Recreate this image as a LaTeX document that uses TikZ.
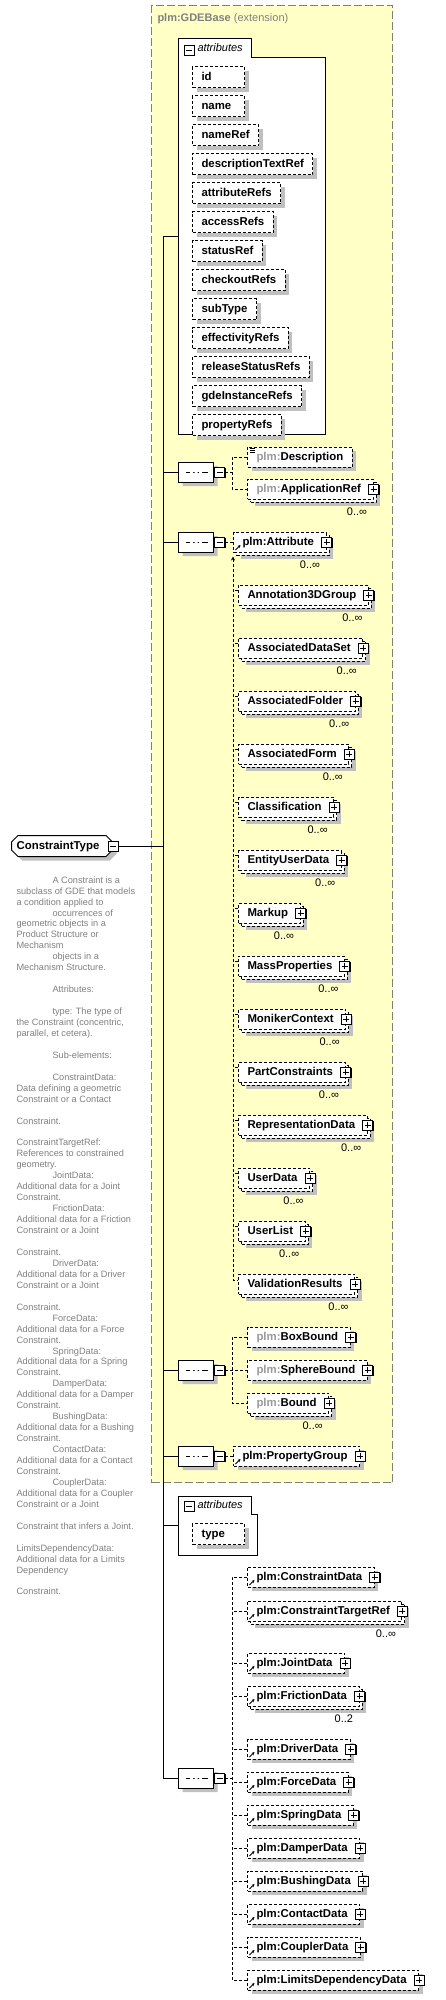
\documentclass[tikz,border=0pt]{standalone}
\usepackage{fontspec}
\setmainfont{Liberation Sans}
\usetikzlibrary{arrows.meta, positioning, shapes.misc, shadows}

\definecolor{gdefill}{HTML}{FFFFC6}
\definecolor{gdeline}{HTML}{808080}
\definecolor{shade}{HTML}{C0C0C0}
\definecolor{doctext}{HTML}{808080}
\definecolor{pfxgray}{HTML}{999999}

\newcommand{\elemfont}{\fontsize{11.4}{13}\selectfont\bfseries}
\newcommand{\smallfont}{\fontsize{11}{13}\selectfont}
\newcommand{\docfont}{\fontsize{9.2}{10.95}\selectfont}
\newcommand{\pfx}{\textcolor{pfxgray}{plm:}}
\newcommand{\dtab}{\hspace*{36pt}}

\tikzset{
  box/.style={draw, densely dashed, fill=white, font=\elemfont, inner xsep=9pt, inner ysep=0pt,
    text height=8.5pt, text depth=2.5pt, minimum height=20pt, anchor=west},
  single/.style={box, drop shadow={shadow xshift=4pt, shadow yshift=-4pt, fill=shade, opacity=1}},
  many/.style={box,
    drop shadow={shadow xshift=7pt, shadow yshift=-7pt, fill=shade, opacity=1},
    drop shadow={shadow xshift=3pt, shadow yshift=-3pt, fill=white, draw=black, opacity=1},
    label={[occurs]south east:#1}},
  occurs/.style={font=\smallfont, inner sep=0pt, anchor=north east, xshift=-6pt, yshift=-8pt},
  minusbox/.style={draw, solid, fill=white, minimum size=10pt, inner sep=0pt,
    drop shadow={shadow xshift=1pt, shadow yshift=-1pt, fill=black, opacity=1},
    path picture={\draw ([xshift=2pt]path picture bounding box.west) -- ([xshift=-2pt]path picture bounding box.east);}},
  plusbox/.style={minusbox, anchor=center,
    path picture={\draw ([xshift=2pt]path picture bounding box.west) -- ([xshift=-2pt]path picture bounding box.east)
      ([yshift=-2pt]path picture bounding box.north) -- ([yshift=2pt]path picture bounding box.south);}},
  plus/.style={execute at end node={\hspace*{3pt}}, label={[plusbox]east:{}}},
  ref/.style={path picture={\draw[solid, line width=0.8pt, -{Stealth[length=3pt, width=3pt]}]
      ([shift={(2pt,2pt)}]path picture bounding box.south west) -- ++(5pt,5pt);}},
  docicon/.style={path picture={\draw[solid, line width=0.7pt]
      ([shift={(2pt,-1pt)}]path picture bounding box.north west) -- ++(5pt,0pt) ++(-5pt,-2pt) -- ++(5pt,0pt)
      ++(-5pt,-2pt) -- ++(5pt,0pt);}},
  attr/.style={single, anchor=north west, minimum height=21pt},
  wide/.style={text width=34pt},
  seq/.style={chamfered rectangle, chamfered rectangle xsep=5pt, draw, fill=white, minimum width=35pt,
    minimum height=20pt, inner sep=0pt, anchor=west,
    drop shadow={shadow xshift=4pt, shadow yshift=-4pt, fill=shade, opacity=1},
    path picture={
      \draw ([xshift=7pt]path picture bounding box.west) -- ([xshift=-6pt]path picture bounding box.east);
      \fill ([shift={(-6pt,-1.5pt)}]path picture bounding box.center) rectangle ++(3pt,3pt)
            ([shift={(-1.5pt,-1.5pt)}]path picture bounding box.center) rectangle ++(3pt,3pt)
            ([shift={(3pt,-1.5pt)}]path picture bounding box.center) rectangle ++(3pt,3pt);}},
  ctbox/.style={chamfered rectangle, chamfered rectangle xsep=3pt, draw, fill=white, font=\elemfont,
    minimum width=101pt, minimum height=21pt, inner sep=0pt, text height=8.5pt, text depth=2.5pt, anchor=west,
    drop shadow={shadow xshift=4pt, shadow yshift=-4pt, fill=shade, opacity=1}},
  gdebox/.style={draw=gdeline, dash pattern=on 8pt off 3pt, fill=gdefill, anchor=north west,
    minimum width=241pt, minimum height=1477pt, inner sep=0pt},
  attrbody/.style={anchor=north west, inner sep=0pt},
  tablabel/.style={font=\smallfont\itshape, anchor=west, inner sep=0pt},
  doc/.style={font=\docfont, text=doctext, align=left, anchor=north west, inner sep=0pt},
  link/.style={densely dashed}
}

\begin{document}
\begin{tikzpicture}[x=1pt, y=-1pt, line width=1pt, >={Stealth[length=4pt, width=4pt]}]
    \useasboundingbox (0,0) rectangle (446,2000);

    % base type frame
    \node[gdebox] (gde) at (151,5) {};
    \node[anchor=west, font=\smallfont, text=gdeline, inner sep=0pt] (gdetitle) at (157,19) {\textbf{plm:GDEBase} (extension)};

    % inherited attributes
    \node[attrbody, minimum width=146pt, minimum height=395pt] (attrs) at (178,38) {};
    \coordinate (tab1) at (251,57);
    \draw[fill=white] (attrs.south west) -- (attrs.north west) -| (tab1) -- (tab1 -| attrs.east) -- (attrs.south east) -- cycle;
    \node[minusbox] (attrm) at (189,50) {};
    \node[tablabel] (attrlbl) at (197,48) {attributes};
    \node[attr, wide] (id) at (192,66) {id};
    \node[below=7pt of id.south west, attr, wide] (name) {name};
    \node[below=7pt of name.south west, attr] (nameref) {nameRef};
    \node[below=7pt of nameref.south west, attr] (desctext) {descriptionTextRef};
    \node[below=7pt of desctext.south west, attr] (attrrefs) {attributeRefs};
    \node[below=7pt of attrrefs.south west, attr] (access) {accessRefs};
    \node[below=7pt of access.south west, attr] (status) {statusRef};
    \node[below=7pt of status.south west, attr] (checkout) {checkoutRefs};
    \node[below=7pt of checkout.south west, attr] (subtype) {subType};
    \node[below=7pt of subtype.south west, attr] (effect) {effectivityRefs};
    \node[below=7pt of effect.south west, attr] (release) {releaseStatusRefs};
    \node[below=7pt of release.south west, attr] (gdeinst) {gdeInstanceRefs};
    \node[below=7pt of gdeinst.south west, attr] (propref) {propertyRefs};

    % first sequence
    \node[seq] (s1) at (178,472) {};
    \node[minusbox, right=0pt of s1] (s1m) {};
    \node[single, docicon] (desc) at (247,457) {\pfx Description};
    \node[many=0..∞, plus] (appref) at (247,489) {\pfx ApplicationRef};
    \draw[link] (s1m.east) -- ++(9,0);
    \draw[link] (desc.west) -- ++(-15,0) |- (appref.west);

    % attribute sequence and substitution group
    \node[seq] (s2) at (178,542) {};
    \node[minusbox, right=0pt of s2] (s2m) {};
    \node[many=0..∞, plus, ref] (attrib) at (233,542) {plm:Attribute};
    \draw[link] (s2m.east) -- (attrib.west);
    \node[many=0..∞, plus] (annot) at (238,595) {Annotation3DGroup};
    \node[many=0..∞, plus] (adset) at (238,648) {AssociatedDataSet};
    \node[many=0..∞, plus] (afolder) at (238,701) {AssociatedFolder};
    \node[many=0..∞, plus] (aform) at (238,754) {AssociatedForm};
    \node[many=0..∞, plus] (classif) at (238,807) {Classification};
    \node[many=0..∞, plus] (eud) at (238,860) {EntityUserData};
    \node[many=0..∞, plus] (markup) at (238,913) {Markup};
    \node[many=0..∞, plus] (massprop) at (238,966) {MassProperties};
    \node[many=0..∞, plus] (moniker) at (238,1019) {MonikerContext};
    \node[many=0..∞, plus] (partc) at (238,1072) {PartConstraints};
    \node[many=0..∞, plus] (repdata) at (238,1125) {RepresentationData};
    \node[many=0..∞, plus] (udata) at (238,1178) {UserData};
    \node[many=0..∞, plus] (ulist) at (238,1231) {UserList};
    \node[many=0..∞, plus] (valid) at (238,1284) {ValidationResults};
    \coordinate (sg) at ([yshift=-4pt]attrib.south west);
    \draw[link, <-] (sg) |- ([yshift=4pt]valid.west);
    \draw[link] ([yshift=5pt]annot.west) -- ++(-5,0);
    \draw[link] ([yshift=5pt]adset.west) -- ++(-5,0);
    \draw[link] ([yshift=5pt]afolder.west) -- ++(-5,0);
    \draw[link] ([yshift=5pt]aform.west) -- ++(-5,0);
    \draw[link] ([yshift=5pt]classif.west) -- ++(-5,0);
    \draw[link] ([yshift=5pt]eud.west) -- ++(-5,0);
    \draw[link] ([yshift=5pt]markup.west) -- ++(-5,0);
    \draw[link] ([yshift=5pt]massprop.west) -- ++(-5,0);
    \draw[link] ([yshift=5pt]moniker.west) -- ++(-5,0);
    \draw[link] ([yshift=5pt]partc.west) -- ++(-5,0);
    \draw[link] ([yshift=5pt]repdata.west) -- ++(-5,0);
    \draw[link] ([yshift=5pt]udata.west) -- ++(-5,0);
    \draw[link] ([yshift=5pt]ulist.west) -- ++(-5,0);

    % bounds
    \node[seq] (s3) at (178,1370) {};
    \node[minusbox, right=0pt of s3] (s3m) {};
    \node[single, plus] (boxb) at (247,1337) {\pfx BoxBound};
    \node[single, plus] (sphere) at (247,1370) {\pfx SphereBound};
    \node[many=0..∞, plus] (bound) at (247,1403) {\pfx Bound};
    \draw[link] (s3m.east) -- (sphere.west);
    \draw[link] (boxb.west) -- ++(-15,0) |- (bound.west);

    % property group
    \node[seq] (s4) at (178,1456) {};
    \node[minusbox, right=0pt of s4] (s4m) {};
    \node[single, plus, ref] (propg) at (233,1456) {plm:PropertyGroup};
    \draw[link] (s4m.east) -- (propg.west);

    % own attributes
    \node[attrbody, minimum width=78pt, minimum height=58pt] (attrs2) at (178,1496) {};
    \coordinate (tab2) at (251,1514);
    \draw[fill=white] (attrs2.south west) -- (attrs2.north west) -| (tab2) -- (tab2 -| attrs2.east) -- (attrs2.south east) -- cycle;
    \node[minusbox] (attrm2) at (189,1506) {};
    \node[tablabel] (attrlbl2) at (197,1505) {attributes};
    \node[attr, wide] (type) at (192,1523) {type};

    % own elements
    \node[seq] (s5) at (178,1778) {};
    \node[minusbox, right=0pt of s5] (s5m) {};
    \node[single, plus, ref] (cdata) at (247,1577) {plm:ConstraintData};
    \node[many=0..∞, plus, ref] (ctref) at (247,1611) {plm:ConstraintTargetRef};
    \node[single, plus, ref] (jdata) at (247,1663) {plm:JointData};
    \node[many=0..2, plus, ref] (frdata) at (247,1696) {plm:FrictionData};
    \node[single, plus, ref] (drdata) at (247,1749) {plm:DriverData};
    \node[single, plus, ref] (fodata) at (247,1782) {plm:ForceData};
    \node[single, plus, ref] (spdata) at (247,1815) {plm:SpringData};
    \node[single, plus, ref] (dadata) at (247,1848) {plm:DamperData};
    \node[single, plus, ref] (budata) at (247,1881) {plm:BushingData};
    \node[single, plus, ref] (codata) at (247,1914) {plm:ContactData};
    \node[single, plus, ref] (cpdata) at (247,1947) {plm:CouplerData};
    \node[single, plus, ref] (limits) at (247,1980) {plm:LimitsDependencyData};
    \draw[link] (s5m.east) -- ++(9,0);
    \draw[link] (cdata.west) -- ++(-15,0) |- (limits.west);
    \draw[link] (ctref.west) -- ++(-15,0);
    \draw[link] (jdata.west) -- ++(-15,0);
    \draw[link] (frdata.west) -- ++(-15,0);
    \draw[link] (drdata.west) -- ++(-15,0);
    \draw[link] (fodata.west) -- ++(-15,0);
    \draw[link] (spdata.west) -- ++(-15,0);
    \draw[link] (dadata.west) -- ++(-15,0);
    \draw[link] (budata.west) -- ++(-15,0);
    \draw[link] (codata.west) -- ++(-15,0);
    \draw[link] (cpdata.west) -- ++(-15,0);

    % the complex type and its spine
    \node[ctbox] (ct) at (11,846) {ConstraintType\hspace*{8pt}};
    \node[minusbox] (ctm) at (ct.east) {};
    \coordinate (spine) at (163,236);
    \draw (spine) |- (s5.west);
    \draw (attrs.west -| spine) -- (attrs.west);
    \draw (s1.west -| spine) -- (s1.west);
    \draw (s2.west -| spine) -- (s2.west);
    \draw (s3.west -| spine) -- (s3.west);
    \draw (s4.west -| spine) -- (s4.west);
    \draw (attrs2.west -| spine) -- (attrs2.west);
    \draw (ctm.east) -- (ctm.east -| spine);

    \node[doc] (ctdoc) at (16,876) {\dtab A Constraint is a\\
subclass of GDE that models\\
a condition applied to\\
\dtab occurrences of\\
geometric objects in a\\
Product Structure or\\
Mechanism\\
\dtab objects in a\\
Mechanism Structure.\\[10.95pt]
\dtab Attributes:\\[10.95pt]
\dtab type: The type of\\
the Constraint (concentric,\\
parallel, et cetera).\\[10.95pt]
\dtab Sub-elements:\\[10.95pt]
\dtab ConstraintData:\\
Data defining a geometric\\
Constraint or a Contact\\[10.95pt]
Constraint.\\[10.95pt]
ConstraintTargetRef:\\
References to constrained\\
geometry.\\
\dtab JointData:\\
Additional data for a Joint\\
Constraint.\\
\dtab FrictionData:\\
Additional data for a Friction\\
Constraint or a Joint\\[10.95pt]
Constraint.\\
\dtab DriverData:\\
Additional data for a Driver\\
Constraint or a Joint\\[10.95pt]
Constraint.\\
\dtab ForceData:\\
Additional data for a Force\\
Constraint.\\
\dtab SpringData:\\
Additional data for a Spring\\
Constraint.\\
\dtab DamperData:\\
Additional data for a Damper\\
Constraint.\\
\dtab BushingData:\\
Additional data for a Bushing\\
Constraint.\\
\dtab ContactData:\\
Additional data for a Contact\\
Constraint.\\
\dtab CouplerData:\\
Additional data for a Coupler\\
Constraint or a Joint\\[10.95pt]
Constraint that infers a Joint.\\[10.95pt]
LimitsDependencyData:\\
Additional data for a Limits\\
Dependency\\[10.95pt]
Constraint.};
\end{tikzpicture}
\end{document}
